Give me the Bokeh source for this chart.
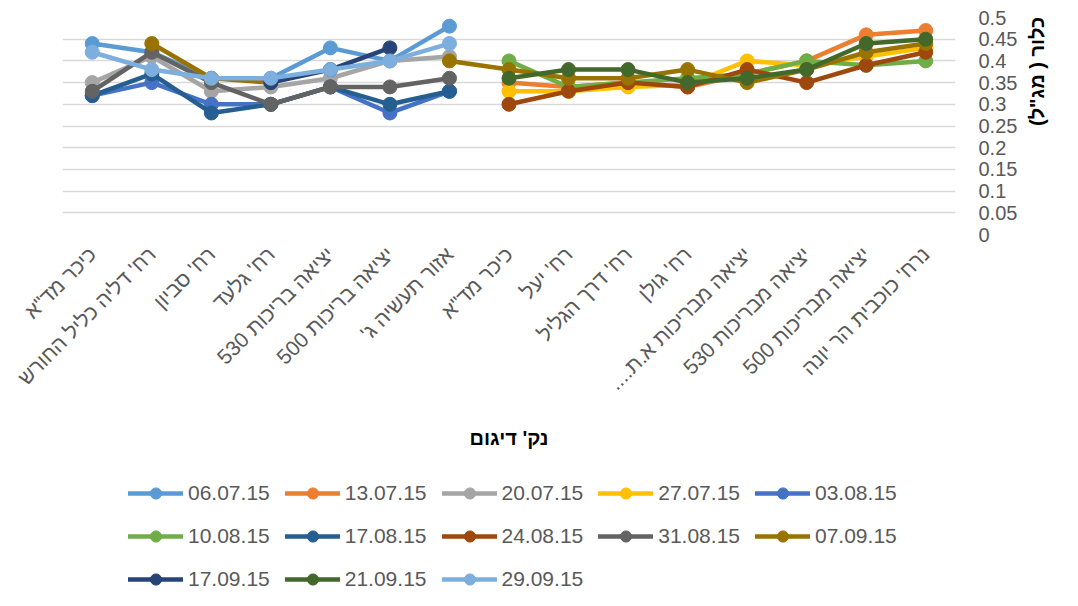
import numpy as np
from math import pi
from bokeh.plotting import figure
from bokeh.layouts import column
from bokeh.models import FixedTicker, Legend, LegendItem, Range1d
from bokeh.embed import file_html
from bokeh.resources import INLINE

nan = np.nan
RLM = "\u200f"

categories = ['כיכר מד"א', "רח' דליה כליל החורש", "רח' סביון", "רח' גלעד",
              "יציאה בריכות 530", "יציאה בריכות 500", "אזור תעשיה ג'",
              'כיכר מד"א', "רח' יעל", "רח' דרך הגליל", "רח' גולן",
              "יציאה מבריכות א.ת....", "יציאה מבריכות 530", "יציאה מבריכות 500",
              "נרח' כוכבית הר יונה"]

y_ticks = [0, 0.05, 0.1, 0.15, 0.2, 0.25, 0.3, 0.35, 0.4, 0.45, 0.5]
y_tick_labels = ["0", "0.05", "0.1", "0.15", "0.2", "0.25", "0.3", "0.35", "0.4", "0.45", "0.5"]

dates = ["06.07.15", "13.07.15", "20.07.15", "27.07.15", "03.08.15",
         "10.08.15", "17.08.15", "24.08.15", "31.08.15", "07.09.15",
         "17.09.15", "21.09.15", "29.09.15"]

s_060715 = [0.44, 0.42, 0.36, 0.36, 0.43, 0.40, 0.48, nan, nan, nan, nan, nan, nan, nan, nan]
s_130715 = [nan, nan, nan, nan, nan, nan, nan, 0.35, 0.34, 0.35, 0.34, 0.37, 0.40, 0.46, 0.47]
s_200715 = [0.35, 0.41, 0.33, 0.34, 0.36, 0.40, 0.41, nan, nan, nan, nan, nan, nan, nan, nan]
s_270715 = [nan, nan, nan, nan, nan, nan, nan, 0.33, 0.33, 0.34, 0.345, 0.40, 0.39, 0.41, 0.43]
s_030815 = [0.32, 0.35, 0.30, 0.30, 0.34, 0.28, 0.33, nan, nan, nan, nan, nan, nan, nan, nan]
s_100815 = [nan, nan, nan, nan, nan, nan, nan, 0.40, 0.34, 0.35, 0.36, 0.37, 0.40, 0.39, 0.40]
s_170815 = [0.32, 0.37, 0.28, 0.30, 0.34, 0.30, 0.33, nan, nan, nan, nan, nan, nan, nan, nan]
s_240815 = [nan, nan, nan, nan, nan, nan, nan, 0.30, 0.33, 0.35, 0.34, 0.38, 0.35, 0.39, 0.42]
s_310815 = [0.33, 0.42, 0.35, 0.30, 0.34, 0.34, 0.36, nan, nan, nan, nan, nan, nan, nan, nan]
s_070915 = [nan, 0.44, 0.36, 0.35, nan, nan, 0.40, 0.38, 0.36, 0.36, 0.38, 0.35, 0.38, 0.42, 0.44]
s_170915 = [nan, nan, nan, 0.35, 0.38, 0.43, nan, nan, nan, nan, nan, nan, nan, nan, nan]
s_210915 = [nan, nan, nan, nan, nan, nan, nan, 0.36, 0.38, 0.38, 0.35, 0.36, 0.38, 0.44, 0.45]
s_290915 = [0.42, 0.38, 0.36, 0.36, 0.38, 0.40, 0.44, nan, nan, nan, nan, nan, nan, nan, nan]

series = [s_060715, s_130715, s_200715, s_270715, s_030815, s_100815, s_170815,
          s_240815, s_310815, s_070915, s_170915, s_210915, s_290915]
colors = ["#5B9BD5", "#ED7D31", "#A5A5A5", "#FFC000", "#4472C4", "#70AD47", "#255E91",
          "#9E480E", "#636363", "#997300", "#264478", "#43682B", "#7CAFDD"]

x = list(range(len(categories)))

FONT = "Liberation Sans"
LW = 4.5
MS = 14

H1 = 466
H2 = 124

p = figure(width=1062, height=H1, x_range=Range1d(-0.5, 14.5), y_range=Range1d(0, 0.5),
           output_backend="svg", toolbar_location=None, y_axis_location="right",
           min_border_left=62, min_border_right=100, min_border_top=17,
           min_border_bottom=H1 - 234)
p.outline_line_color = None

xa = p.xaxis[0]
xa.ticker = FixedTicker(ticks=x)
xa.major_label_overrides = {i: c + RLM for i, c in zip(x, categories)}
xa.major_label_orientation = pi / 4
xa.major_tick_line_color = None
xa.major_tick_out = 0
xa.minor_tick_line_color = None
xa.axis_line_color = None
xa.major_label_standoff = 16
xa.major_label_text_font_size = "21px"
xa.major_label_text_color = "#595959"
xa.major_label_text_font = FONT
xa.axis_label = "נק' דיגום"
xa.axis_label_standoff = 22
xa.axis_label_text_font_size = "20px"
xa.axis_label_text_font_style = "bold"
xa.axis_label_text_color = "#000000"
xa.axis_label_text_font = FONT

ya = p.yaxis[0]
ya.ticker = FixedTicker(ticks=y_ticks)
ya.major_label_overrides = dict(zip(y_ticks, y_tick_labels))
ya.major_tick_line_color = None
ya.major_tick_out = 0
ya.minor_tick_line_color = None
ya.axis_line_color = None
ya.major_label_standoff = 23
ya.major_label_text_font_size = "20px"
ya.major_label_text_color = "#595959"
ya.major_label_text_font = FONT
ya.axis_label = 'כלור ( מג"ל)' + RLM
ya.axis_label_standoff = 17
ya.axis_label_text_font_size = "20px"
ya.axis_label_text_font_style = "bold"
ya.axis_label_text_color = "#000000"
ya.axis_label_text_font = FONT
if "axis_label_orientation" in ya.properties():
    ya.axis_label_orientation = pi / 2

p.xgrid.visible = False
p.ygrid.ticker = FixedTicker(ticks=y_ticks)
p.ygrid.grid_line_color = "#d9d9d9"
p.ygrid.grid_line_width = 1.5

for vals, c in zip(series, colors):
    p.line(x, vals, line_color=c, line_width=LW, line_join="round", line_cap="round")
    p.scatter(x, vals, size=MS, fill_color=c, line_color=c, line_width=1)

# legend figure (same series, drawn out of its visible range; only the legend shows)
p2 = figure(width=1062, height=H2, x_range=Range1d(-0.5, 14.5), y_range=Range1d(2, 3),
            output_backend="svg", toolbar_location=None,
            x_axis_location=None, y_axis_location=None,
            min_border_left=0, min_border_right=0, min_border_top=0, min_border_bottom=0)
p2.grid.visible = False
p2.outline_line_color = None

items = []
for d, vals, c in zip(dates, series, colors):
    rl = p2.line(x, vals, line_color=c, line_width=LW, line_cap="round")
    rs = p2.scatter(x, vals, size=MS, fill_color=c, line_color=c, line_width=1)
    items.append(LegendItem(label=d, renderers=[rl, rs]))

legend = Legend(items=items, location=(66, -3), orientation="horizontal", ncols=5,
                glyph_width=55, glyph_height=28, label_height=28, spacing=15,
                padding=0, margin=0, border_line_color=None, background_fill_alpha=0,
                label_text_font_size="21px", label_text_color="#595959",
                label_text_font=FONT, label_standoff=5)
p2.add_layout(legend)

layout = column(p, p2, spacing=0)
open("out.html", "w").write(file_html(layout, INLINE))
